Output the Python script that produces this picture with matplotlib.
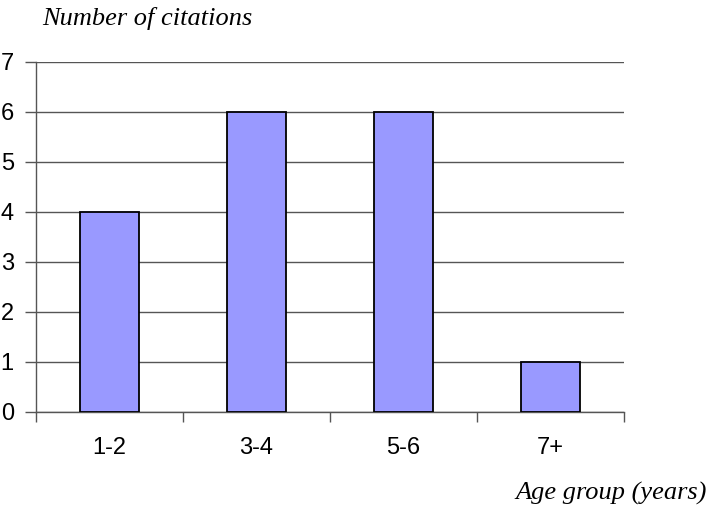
import matplotlib
matplotlib.use("Agg")
import matplotlib.pyplot as plt
import numpy as np

age_groups = ["1-2", "3-4", "5-6", "7+"]
citations = [4, 6, 6, 1]

fig = plt.figure(figsize=(7.08, 5.08), dpi=100)
ax = fig.add_axes([36 / 708, 96 / 508, 588 / 708, 350 / 508])

x = np.arange(len(age_groups))
ax.bar(x, citations, width=0.4, color="#9999ff", edgecolor="black", linewidth=1.3, zorder=3)

ax.set_xlim(-0.5, len(age_groups) - 0.5)
ax.set_ylim(0, 7)
ax.set_yticks(range(0, 8))
ax.yaxis.grid(True, color="#555555", linewidth=1.0, zorder=0)

# category ticks sit between the bars, labels under the bar centres
ax.set_xticks(np.arange(-0.5, len(age_groups)), minor=False)
ax.set_xticklabels([])
ax.set_xticks(x, minor=True)
ax.set_xticklabels(age_groups, minor=True)
ax.tick_params(axis="x", which="major", length=7, width=1.0, color="#555555", direction="out")
ax.tick_params(axis="x", which="minor", length=0, pad=18)
ax.tick_params(axis="y", length=8, width=1.0, color="#555555", direction="out", pad=8)

for lbl in ax.get_xticklabels(minor=True) + ax.get_yticklabels():
    lbl.set_fontfamily("Liberation Sans")
    lbl.set_fontsize(17)

for side in ["top", "right"]:
    ax.spines[side].set_visible(False)
for side in ["left", "bottom"]:
    ax.spines[side].set_color("#555555")
    ax.spines[side].set_linewidth(1.0)

fig.text(42 / 708, 1 - 18 / 508, "Number of citations", fontfamily="Liberation Serif",
         style="italic", fontsize=19, ha="left", va="center")
fig.text(707 / 708, 1 - 493 / 508, "Age group (years)", fontfamily="Liberation Serif",
         style="italic", fontsize=19, ha="right", va="center")

fig.savefig("out.png", dpi=100)
